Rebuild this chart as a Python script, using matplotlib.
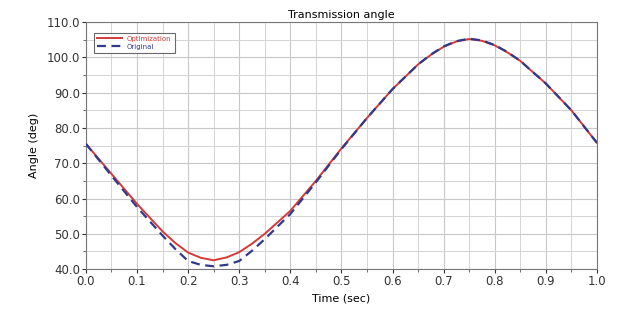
import matplotlib
matplotlib.use('Agg')
import matplotlib.pyplot as plt
from matplotlib.ticker import MultipleLocator, FormatStrFormatter

# данные
time = [0.0, 0.05, 0.1, 0.15, 0.175, 0.2, 0.225, 0.25, 0.275, 0.3, 0.325, 0.35, 0.4, 0.45, 0.5,
        0.55, 0.6, 0.65, 0.675, 0.7, 0.725, 0.75, 0.775, 0.8, 0.825, 0.85, 0.9, 0.95, 1.0]
optimization = [75.5, 67.0, 58.5, 50.7, 47.4, 44.7, 43.2, 42.5, 43.3, 44.8, 47.2, 50.0, 56.5, 65.0, 74.2,
                82.8, 91.0, 98.0, 100.7, 103.0, 104.5, 105.2, 104.7, 103.4, 101.4, 99.0, 92.6, 85.0, 75.8]
original = [75.5, 66.5, 57.6, 49.5, 45.7, 42.3, 41.2, 40.8, 41.2, 42.3, 45.2, 48.5, 55.6, 64.6, 74.0,
            82.8, 91.0, 98.0, 100.8, 103.1, 104.6, 105.3, 104.8, 103.5, 101.5, 99.0, 92.6, 85.0, 75.8]

fig = plt.figure(figsize=(6.27, 3.2), dpi=100)
ax = fig.add_axes([0.137, 0.159, 0.815, 0.772])

ax.plot(time, optimization, color='#d23a3a', lw=1.4, label='Optimization', zorder=3)
ax.plot(time, original, color='#2f3a8a', lw=1.6, ls=(0, (4, 2.5)), label='Original', zorder=4)

ax.set_xlim(0, 1)
ax.set_ylim(40, 110)
ax.xaxis.set_major_locator(MultipleLocator(0.1))
ax.xaxis.set_minor_locator(MultipleLocator(0.05))
ax.yaxis.set_major_locator(MultipleLocator(10))
ax.yaxis.set_minor_locator(MultipleLocator(5))
ax.xaxis.set_major_formatter(FormatStrFormatter('%.1f'))
ax.yaxis.set_major_formatter(FormatStrFormatter('%.1f'))

ax.grid(which='major', color='#c8c8c8', lw=0.8)
ax.grid(which='minor', color='#d4d4d4', lw=0.7)
ax.tick_params(which='major', length=3, labelsize=8.5, colors='#333333', pad=1)
ax.tick_params(which='minor', length=2, colors='#555555')
for s in ax.spines.values():
    s.set_color('#777777')

ax.set_title('Transmission angle', fontsize=8, pad=3)
ax.set_xlabel('Time (sec)', fontsize=8, labelpad=4)
ax.set_ylabel('Angle (deg)', fontsize=8, labelpad=6)

leg = ax.legend(loc='upper left', fontsize=5, frameon=True, fancybox=False,
                handlelength=3.5, borderpad=0.4, labelspacing=0.3,
                bbox_to_anchor=(0.01, 0.97))
leg.get_frame().set_edgecolor('#444444')
leg.get_frame().set_linewidth(0.8)
for txt, c in zip(leg.get_texts(), ['#d23a3a', '#2f3a8a']):
    txt.set_color(c)

fig.savefig('out.png', dpi=100)
